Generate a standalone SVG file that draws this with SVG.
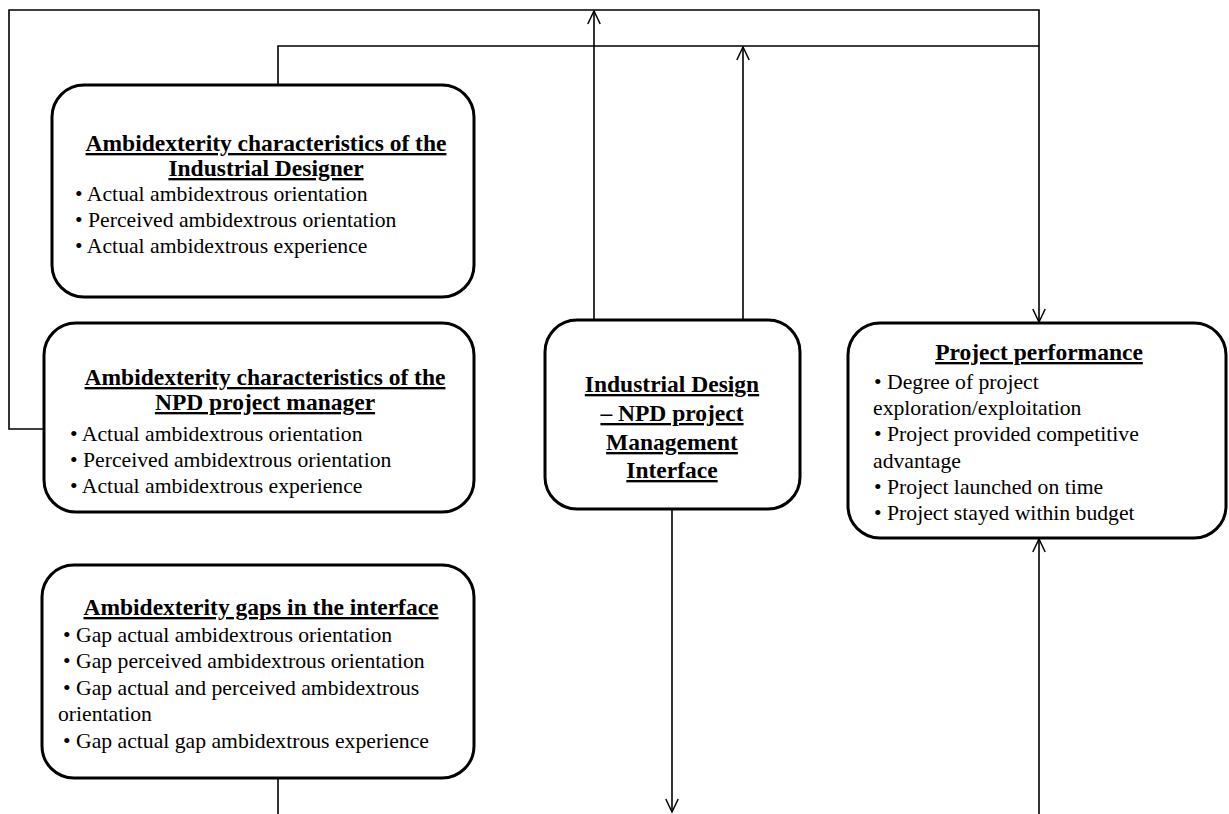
<svg xmlns="http://www.w3.org/2000/svg" width="1229" height="814" viewBox="0 0 1229 814">
<style>
.box{fill:#fff;stroke:#000;stroke-width:3}
.c{fill:none;stroke:#000;stroke-width:1.6}
.t{font-family:"Liberation Serif","Times New Roman",serif;font-size:23.5px;font-weight:bold;text-decoration:underline;fill:#000;text-anchor:middle}
.b{font-family:"Liberation Serif","Times New Roman",serif;font-size:21.7px;fill:#000}
</style>
<defs>
<marker id="ah" viewBox="0 0 16 16" refX="15" refY="8" markerWidth="16" markerHeight="16" markerUnits="userSpaceOnUse" orient="auto">
<path d="M2,1.8 L15,8 L2,14.2" fill="none" stroke="#000" stroke-width="1.5"/>
</marker>
</defs>
<rect width="1229" height="814" fill="#fff"/>
<g id="connectors">
<path class="c" d="M44,429 H9 V10 H1039 V322" marker-end="url(#ah)"/>
<path class="c" d="M594,320 V11" marker-end="url(#ah)"/>
<path class="c" d="M278,85 V46 H1039"/>
<path class="c" d="M743,320 V47" marker-end="url(#ah)"/>
<path class="c" d="M672,509 V812" marker-end="url(#ah)"/>
<path class="c" d="M1039,814 V539" marker-end="url(#ah)"/>
<path class="c" d="M278,778 V814"/>
</g>
<g id="designer">
<rect class="box" x="52" y="85" width="422" height="212" rx="32"/>
<text class="t" x="266" y="151">Ambidexterity characteristics of the</text>
<text class="t" x="266" y="176">Industrial Designer</text>
<text class="b" x="75" y="201">• Actual ambidextrous orientation</text>
<text class="b" x="75" y="227">• Perceived ambidextrous orientation</text>
<text class="b" x="75" y="253">• Actual ambidextrous experience</text>
</g>
<g id="manager">
<rect class="box" x="44" y="323" width="430" height="189" rx="32"/>
<text class="t" x="265" y="385">Ambidexterity characteristics of the</text>
<text class="t" x="265" y="410">NPD project manager</text>
<text class="b" x="70" y="441">• Actual ambidextrous orientation</text>
<text class="b" x="70" y="467">• Perceived ambidextrous orientation</text>
<text class="b" x="70" y="493">• Actual ambidextrous experience</text>
</g>
<g id="interface">
<rect class="box" x="545" y="320" width="255" height="189" rx="32"/>
<text class="t" x="672" y="392">Industrial Design</text>
<text class="t" x="672" y="421">– NPD project</text>
<text class="t" x="672" y="450">Management</text>
<text class="t" x="672" y="478">Interface</text>
</g>
<g id="performance">
<rect class="box" x="848" y="323" width="378" height="215" rx="32"/>
<text class="t" x="1039" y="360">Project performance</text>
<text class="b" x="874" y="389">• Degree of project</text>
<text class="b" x="873" y="415">exploration/exploitation</text>
<text class="b" x="874" y="441">• Project provided competitive</text>
<text class="b" x="873" y="468">advantage</text>
<text class="b" x="874" y="494">• Project launched on time</text>
<text class="b" x="874" y="520">• Project stayed within budget</text>
</g>
<g id="gaps">
<rect class="box" x="42" y="565" width="432" height="213" rx="32"/>
<text class="t" x="261" y="615">Ambidexterity gaps in the interface</text>
<text class="b" x="63" y="642">• Gap actual ambidextrous orientation</text>
<text class="b" x="63" y="668">• Gap perceived ambidextrous orientation</text>
<text class="b" x="63" y="695">• Gap actual and perceived ambidextrous</text>
<text class="b" x="58" y="721">orientation</text>
<text class="b" x="63" y="748">• Gap actual gap ambidextrous experience</text>
</g>
</svg>
